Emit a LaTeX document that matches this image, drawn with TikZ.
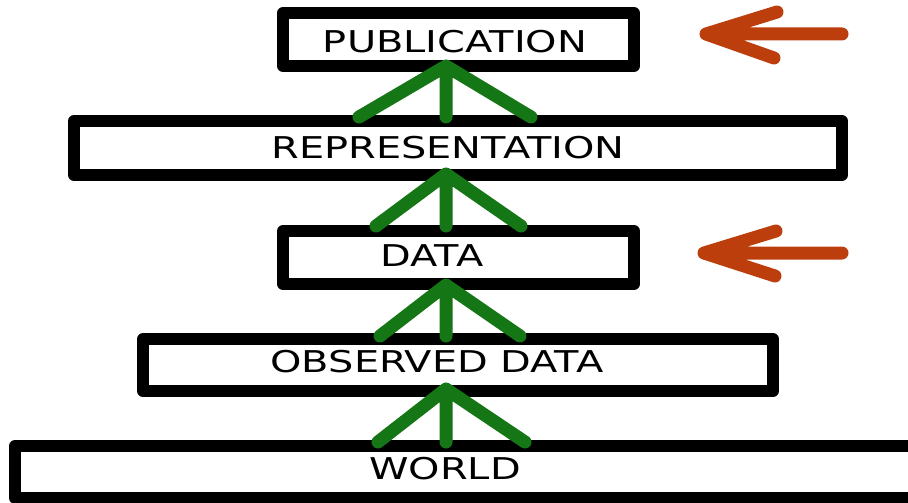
\documentclass[tikz,border=0pt]{standalone}
\usepackage{fontspec}
\newfontfamily\widefont[FakeStretch=1.33]{DejaVu Sans}
\definecolor{arrgreen}{RGB}{20,118,20}
\definecolor{arrred}{RGB}{188,62,12}
\begin{document}
\begin{tikzpicture}[x=1pt,y=-1pt,
  levelbox/.style={draw=black,line width=12pt,line join=round,fill=white,inner sep=0pt,rectangle},
  lbl/.style={inner sep=0pt,font=\widefont\fontsize{30}{35}\selectfont,text=black},
  up/.style={draw=arrgreen,line width=13pt,line cap=round,line join=round},
  note/.style={draw=arrred,line width=13pt,line cap=round,line join=round}]
\useasboundingbox (0,0) rectangle (908,503);
\fill[white] (0,0) rectangle (908,503);
% boxes
\node[levelbox,minimum width=351pt,minimum height=53pt] (pub) at (458.5,39.5) {};
\node[levelbox,minimum width=768pt,minimum height=54pt] (rep) at (458,148) {};
\node[levelbox,minimum width=351pt,minimum height=53pt] (dat) at (458.5,257.5) {};
\node[levelbox,minimum width=630pt,minimum height=52pt] (obs) at (458,365) {};
\node[levelbox,minimum width=900pt,minimum height=52pt] (wld) at (465,472) {};
% labels
\node[lbl] (publ) at (455,42) {PUBLICATION};
\node[lbl] (repl) at (448,148) {REPRESENTATION};
\node[lbl] (datl) at (432,255.5) {DATA};
\node[lbl] (obsl) at (437,362) {OBSERVED DATA};
\node[lbl] (wldl) at (445,469) {WORLD};
% green arrow coordinates
\coordinate (a1) at (446,66);
\coordinate (l1) at (359,117);
\coordinate (m1) at (446,117);
\coordinate (r1) at (531,117);
\coordinate (a2) at (446,174);
\coordinate (l2) at (376,226);
\coordinate (m2) at (446,226);
\coordinate (r2) at (521,226);
\coordinate (a3) at (446,285);
\coordinate (l3) at (380,336);
\coordinate (m3) at (446,336);
\coordinate (r3) at (520,336);
\coordinate (a4) at (446,389);
\coordinate (l4) at (378,442);
\coordinate (m4) at (446,442);
\coordinate (r4) at (525,442);
\draw[up] (l1) -- (a1) -- (r1) (m1) -- (a1);
\draw[up] (l2) -- (a2) -- (r2) (m2) -- (a2);
\draw[up] (l3) -- (a3) -- (r3) (m3) -- (a3);
\draw[up] (l4) -- (a4) -- (r4) (m4) -- (a4);
% red arrows
\coordinate (t1) at (706,34);
\coordinate (e1) at (842,34);
\coordinate (b1) at (777,12);
\coordinate (c1) at (774,58);
\coordinate (t2) at (704,253);
\coordinate (e2) at (842,253);
\coordinate (b2) at (776,231);
\coordinate (c2) at (775,276);
\draw[note] (e1) -- (t1) (b1) -- (t1) -- (c1);
\draw[note] (e2) -- (t2) (b2) -- (t2) -- (c2);
\end{tikzpicture}
\end{document}
